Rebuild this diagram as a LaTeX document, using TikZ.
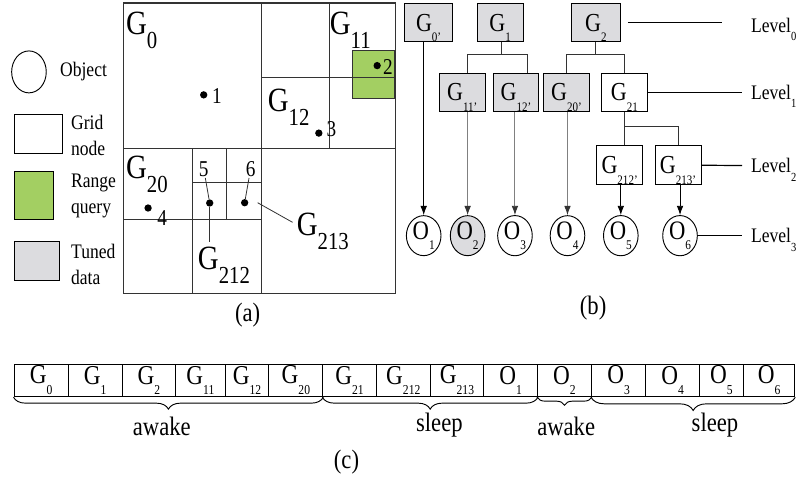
\documentclass[tikz,border=0pt]{standalone}
\usepackage{graphicx}
\usepackage{fontspec}
\setmainfont{Liberation Serif}[FakeStretch=0.85]
\usetikzlibrary{positioning,calc,arrows.meta,decorations.pathreplacing,shapes.geometric}
\definecolor{tunedgray}{RGB}{220,220,223}
\definecolor{rangegreen}{RGB}{163,207,98}
\newcommand{\low}[2][0.5]{\raisebox{-0.4em}{\scalebox{#1}{#2}}}

\begin{document}
\begin{tikzpicture}[x=0.75pt,y=-0.75pt,
    gl/.style={draw=black!80,line width=0.8pt},
    dot/.style={circle,fill=black,inner sep=0pt,minimum size=5.5pt},
    num/.style={inner sep=1pt,font=\fontsize{17}{18}\selectfont},
    big/.style={inner sep=0pt,anchor=base west,font=\fontsize{25.5}{28}\selectfont},
    lgd/.style={align=left,anchor=west,inner sep=0pt,font=\fontsize{15.5}{19.5}\selectfont},
    box/.style={draw,line width=0.7pt,minimum width=34.5pt,minimum height=29pt,inner sep=0pt,text depth=0pt,font=\fontsize{19.5}{20}\selectfont},
    tbox/.style={box,fill=tunedgray},
    obj/.style={ellipse,draw,line width=0.7pt,minimum width=26pt,minimum height=28.5pt,inner sep=0pt,font=\fontsize{20}{20}\selectfont},
    link/.style={draw=black!80,line width=0.7pt},
    arr/.style={line width=0.7pt,-{Latex[length=7pt,width=5pt]}},
    garr/.style={arr,draw=black!50,-{Latex[length=7pt,width=5pt,black!80]}},
    lvl/.style={anchor=west,inner xsep=6.5pt,inner ysep=0pt,text depth=0pt,font=\fontsize{15.5}{16}\selectfont},
    cell/.style={draw,line width=0.7pt,minimum height=24.4pt,inner sep=0pt,font=\fontsize{20.5}{21}\selectfont},
    brc/.style={decorate,line width=0.7pt,decoration={brace,mirror,amplitude=#1}},
    sublabel/.style={font=\fontsize{20}{20}\selectfont}]

\fill[white] (0,0) rectangle (805,482);

% (a) grid
\filldraw[fill=rangegreen,draw=black!80,line width=0.7pt] (353,50.7) rectangle (395,98.7);
\draw[gl] (124,3) rectangle (396,294);
\draw[gl] (262,3) -- (262,294);
\draw[gl] (124,149) -- (396,149);
\draw[gl] (262,77.7) -- (396,77.7);
\draw[gl] (330,3) -- (330,149);
\draw[gl] (124,220) -- (262,220);
\draw[gl] (192.7,149) -- (192.7,294);
\draw[gl] (192.7,183) -- (262,183);
\draw[gl] (226.7,149) -- (226.7,220);

\node[big] (g0) at (126,35) {G\low[0.72]{0}};
\node[big] (g11) at (330,35) {G\low[0.72]{11}};
\node[big] (g12) at (268,112) {G\low[0.72]{12}};
\node[big] (g20) at (126,179) {G\low[0.72]{20}};
\node[big] (g212) at (198,270) {G\low[0.72]{212}};
\node[big] (g213) at (297,236) {G\low[0.72]{213}};

\node[dot] (p1) at (204,95) {};
\node[dot] (p2) at (377.7,65.7) {};
\node[dot] (p3) at (319.3,133.3) {};
\node[dot] (p4) at (148.3,208.3) {};
\node[dot] (p5) at (210,203.3) {};
\node[dot] (p6) at (245,203) {};
\node[num] (n1) at (217.3,95.7) {1};
\node[num] (n2) at (388.5,67.5) {2};
\node[num] (n3) at (332,129) {3};
\node[num] (n4) at (162.5,218) {4};
\node[num] (n5) at (204,169) {5};
\node[num] (n6) at (251,169) {6};
\coordinate (t6) at (258,203);

\draw[gl,line width=0.6pt] (n5) -- (p5);
\draw[gl,line width=0.6pt] (n6) -- (p6);
\draw[gl,line width=0.6pt] (p5) -- ($(p5 |- g212.north)+(0,-5)$);
\draw[gl,line width=0.6pt] (t6) -- ($(g213.west)+(-4,-9)$);

% legend
\node[ellipse,draw,line width=0.7pt,minimum width=26pt,minimum height=31.5pt] (lgobj) at (29,72) {};
\node[draw,line width=0.7pt,minimum width=36.75pt,minimum height=29.25pt] (lggrid) at (38.5,134.5) {};
\node[draw,line width=0.7pt,fill=rangegreen,minimum width=30pt,minimum height=36pt] (lgrange) at (34,196) {};
\node[draw,line width=0.7pt,fill=tunedgray,minimum width=34.5pt,minimum height=29.25pt] (lgtuned) at (37,261.5) {};
\node[lgd] (tobj) at (60,72) {Object};
\node[lgd] (tgrid) at (71,136) {Grid\\node};
\node[lgd] (trange) at (71,196) {Range\\query};
\node[lgd] (ttuned) at (71,265) {Tuned\\data};

\node[sublabel] (la) at (248,316) {(a)};

% (b) tree
\node[tbox,minimum width=36pt] (g0p) at (429.2,22.5) {G\low{0'}};
\node[tbox] (g1) at (500.8,22.5) {G\low{1}};
\node[tbox,minimum width=36.75pt] (g2) at (596.7,22.5) {G\low{2}};
\node[tbox] (g11p) at (462.9,92.5) {G\low{11'}};
\node[tbox] (g12p) at (516.7,92.5) {G\low{12'}};
\node[tbox] (g20p) at (567.2,92.5) {G\low{20'}};
\node[box] (g21) at (625.3,92.5) {G\low{21}};
\node[box] (g212p) at (620.5,165.3) {G\low{212'}};
\node[box] (g213p) at (679,165.3) {G\low{213'}};

\node[obj] (o1) at (424.3,236) {O\low{1}};
\node[obj,fill=tunedgray] (o2) at (468.3,236) {O\low{2}};
\node[obj] (o3) at (515.7,236) {O\low{3}};
\node[obj] (o4) at (568.3,236) {O\low{4}};
\node[obj] (o5) at (621.7,236) {O\low{5}};
\node[obj] (o6) at (681,236) {O\low{6}};

\coordinate (b1) at (501.7,55);
\coordinate (b2) at (596.7,55);
\coordinate (b21) at (625.3,126.7);
\draw[link] (g1.south -| b1) -- (b1);
\draw[link] (g11p.north -| o2) |- (b1) -| ([xshift=9pt]g12p.north);
\draw[link] (g2.south) -- (b2);
\draw[link] (g20p.north) |- (b2) -| (g21.north);
\draw[link] (g21.south) -- (b21) -| (g213p.north);
\draw[link] (b21) -- (g212p.north -| b21);

\draw[arr] (g0p.south -| o1) -- (o1);
\draw[garr] (g11p.south -| o2) -- (o2);
\draw[garr] (g12p.south -| o3) -- (o3);
\draw[garr] (g20p.south -| o4) -- (o4);
\draw[arr] (g212p.south -| o5) -- (o5);
\draw[arr] (g213p.south -| o6) -- (o6);

\node[lvl] (lv0) at (743.3,25) {Level\low[0.6]{0}};
\node[lvl] (lv1) at (743.3,92.5) {Level\low[0.6]{1}};
\node[lvl] (lv2) at (743.3,166) {Level\low[0.6]{2}};
\node[lvl] (lv3) at (743.3,236) {Level\low[0.6]{3}};
\coordinate (e0) at (723,22.5);
\draw[line width=0.9pt] ([xshift=5.25pt]g2.east) -- (e0);
\draw[line width=0.9pt] (g21) -- (lv1);
\draw[line width=0.9pt] (g213p) -- (lv2);
\draw[line width=0.9pt] (o6) -- (lv3);

\node[sublabel] (lb) at (594,309) {(b)};

% (c) array
\foreach \l/\r/\n/\t in {14/68.3/c1/{G\low{0}}, 68.3/122.3/c2/{G\low{1}},
    122.3/176/c3/{G\low{2}}, 176/225.3/c4/{G\low{11}}, 225.3/269.3/c5/{G\low{12}},
    269.3/323.3/c6/{G\low{20}}, 323.3/376.7/c7/{G\low{21}}, 376.7/431/c8/{G\low{212}},
    431/484.3/c9/{G\low{213}}, 484.3/538.3/c10/{O\low{1}}, 538.3/592.3/c11/{O\low{2}},
    592.3/646.7/c12/{O\low{3}}, 646.7/700.7/c13/{O\low{4}}, 700.7/744.3/c14/{O\low{5}},
    744.3/796/c15/{O\low{6}}}
  \node[cell,minimum width={(\r-\l)*0.75pt}] (\n) at ({(\l+\r)/2},381) {\t};

\draw[brc=9pt] (c1.south west) -- (c6.south east);
\draw[brc=9pt] (c7.south west) -- (c10.south east);
\draw[brc=6pt] (c11.south west) -- (c11.south east);
\draw[brc=10pt] (c12.south west) -- (c15.south east);

\node[sublabel,anchor=base] (aw1) at (162,436) {awake};
\node[sublabel,anchor=base] (sl1) at (440,432) {sleep};
\node[sublabel,anchor=base] (aw2) at (567,436) {awake};
\node[sublabel,anchor=base] (sl2) at (716,432) {sleep};

\node[sublabel] (lc) at (347,463) {(c)};
\end{tikzpicture}
\end{document}
